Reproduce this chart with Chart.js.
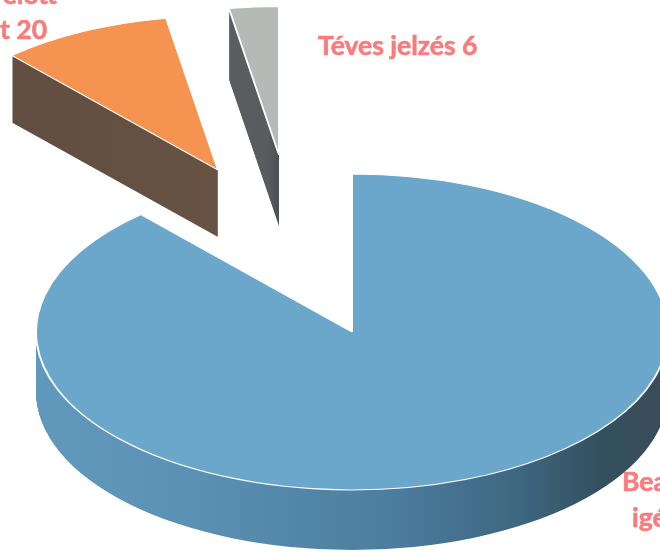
<!DOCTYPE html>
<html>
<head>
<meta charset="utf-8">
<style>
  html, body { margin: 0; padding: 0; background: #fff; overflow: hidden; }
  canvas { display: block; }
</style>
<script src="https://cdn.jsdelivr.net/npm/chart.js@4"></script>
</head>
<body>
<canvas id="pie" width="660" height="553"></canvas>
<script>
const categories = ['Beavatkozást igényelt', 'Beavatkozás előtt elhárult', 'Téves jelzés'];
const values = [197, 20, 6];
const topColors = ['#6ba6cb', '#f69351', '#b5bab7'];

// where each slice sits after being pulled out of the pie
const slicePlace = [
  { cx: 352, cy: 332, size: 1,    depth: 60 },
  { cx: 218, cy: 170, size: 0.975, depth: 67 },
  { cx: 279, cy: 155, size: 0.94, depth: 71 }
];
const wallStops = [
  [[35, '#6199bd'], [200, '#5a90b3'], [400, '#4a7c9d'], [520, '#3e6680'], [600, '#33505f'], [660, '#3a4d58']],
  [[0, '#614e40'], [220, '#675243']],
  [[225, '#5a5e61'], [268, '#585c5f'], [280, '#4b4f52']]
];
const labelLines = [
  { text: 'Beavatkozás előtt', x: 57, y: 4, align: 'right' },
  { text: 'elhárult 20', x: 47, y: 39, align: 'right' },
  { text: 'Téves jelzés 6', x: 318, y: 55, align: 'left' },
  { text: 'Beavatkozást', x: 622, y: 491, align: 'left' },
  { text: 'igényelt 197', x: 632, y: 527, align: 'left' }
];

const pie3d = {
  id: 'pie3d',
  beforeDatasetsDraw(chart) {
    const ctx = chart.ctx;
    chart.getDatasetMeta(0).data.forEach((arc, i) => {
      const p = slicePlace[i];
      const a = arc.getProps(['x', 'y', 'startAngle', 'endAngle', 'outerRadius'], true);

      const wall = ctx.createLinearGradient(0, 0, 660, 0);
      wallStops[i].forEach(s => wall.addColorStop(s[0] / 660, s[1]));
      ctx.fillStyle = wall;
      for (let d = p.depth; d > 0; d--) {
        ctx.save();
        ctx.translate(0, p.cy + d);
        // keep the x gradient in page pixels, only the path gets squashed
        const sector = new Path2D();
        const m = new DOMMatrix().translate(p.cx, 0).scale(p.size, p.size * 0.5);
        const raw = new Path2D();
        raw.moveTo(0, 0);
        raw.arc(0, 0, a.outerRadius, a.startAngle, a.endAngle);
        raw.closePath();
        sector.addPath(raw, m);
        ctx.fill(sector);
        ctx.restore();
      }

      ctx.save();
      ctx.translate(p.cx, p.cy);
      ctx.scale(p.size, p.size * 0.5);
      ctx.translate(-a.x, -a.y);
      arc.draw(ctx);
      ctx.restore();
    });
    return false;
  },
  afterDraw(chart) {
    const ctx = chart.ctx;
    ctx.save();
    ctx.font = 'bold 26.5px Lato';
    ctx.fillStyle = '#f97c7c';
    ctx.strokeStyle = '#f97c7c';
    ctx.lineWidth = 0.6;
    ctx.textBaseline = 'alphabetic';
    labelLines.forEach(l => {
      ctx.textAlign = l.align;
      ctx.fillText(l.text, l.x, l.y);
      ctx.strokeText(l.text, l.x, l.y);
    });
    ctx.restore();
  }
};

new Chart(document.getElementById('pie'), {
  type: 'pie',
  data: {
    labels: categories,
    datasets: [{
      data: values,
      backgroundColor: topColors,
      borderColor: '#ffffff',
      borderWidth: 2
    }]
  },
  options: {
    responsive: false,
    animation: false,
    radius: 316,
    plugins: { legend: { display: false }, tooltip: { enabled: false } }
  },
  plugins: [pie3d]
});
</script>
</body>
</html>
